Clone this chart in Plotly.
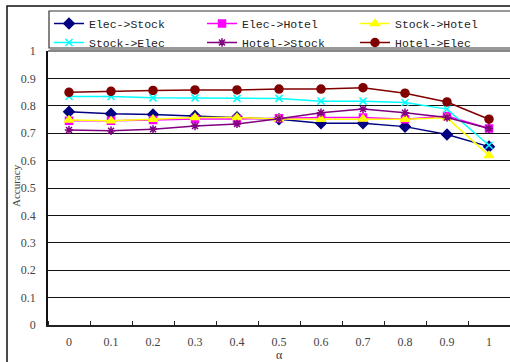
import plotly.graph_objects as go

alpha = [0, 0.1, 0.2, 0.3, 0.4, 0.5, 0.6, 0.7, 0.8, 0.9, 1]
x_labels = ["0", "0.1", "0.2", "0.3", "0.4", "0.5", "0.6", "0.7", "0.8", "0.9", "1"]
y_ticks = [0, 0.1, 0.2, 0.3, 0.4, 0.5, 0.6, 0.7, 0.8, 0.9, 1]
y_labels = ["0", "0.1", "0.2", "0.3", "0.4", "0.5", "0.6", "0.7", "0.8", "0.9", "1"]

elec_stock = [0.778, 0.771, 0.768, 0.763, 0.758, 0.751, 0.736, 0.736, 0.724, 0.695, 0.651]
elec_hotel = [0.745, 0.745, 0.748, 0.752, 0.752, 0.755, 0.757, 0.757, 0.751, 0.763, 0.717]
stock_hotel = [0.748, 0.745, 0.751, 0.757, 0.757, 0.752, 0.751, 0.752, 0.751, 0.756, 0.619]
stock_elec = [0.834, 0.834, 0.829, 0.829, 0.827, 0.827, 0.817, 0.817, 0.812, 0.788, 0.656]
hotel_stock = [0.712, 0.709, 0.714, 0.726, 0.734, 0.753, 0.775, 0.788, 0.775, 0.757, 0.717]
hotel_elec = [0.849, 0.853, 0.856, 0.858, 0.858, 0.861, 0.861, 0.866, 0.846, 0.814, 0.751]

series = [
    ("Elec->Stock", elec_stock, "#000080", "diamond", 8),
    ("Elec->Hotel", elec_hotel, "#FF00FF", "square", 7),
    ("Stock->Hotel", stock_hotel, "#FFFF00", "triangle-up", 8),
    ("Stock->Elec", stock_elec, "#00FFFF", "x-thin", 7),
    ("Hotel->Stock", hotel_stock, "#800080", "asterisk", 7),
    ("Hotel->Elec", hotel_elec, "#800000", "circle", 8),
]

fig = go.Figure()
for name, vals, color, sym, size in series:
    fig.add_trace(go.Scatter(
        x=alpha, y=vals, name=name, mode="lines+markers",
        line=dict(color=color, width=1.5),
        marker=dict(symbol=sym, size=size, color=color,
                    line=dict(color=color, width=1.5)),
    ))

W, H = 510, 362
ml, mr, mt, mb = 48, 0, 51, 37
pw, ph = W - ml - mr, H - mt - mb

def px_x(p):
    return (p - ml) / pw

def px_y(p):
    return (H - mb - p) / ph

serif = "Liberation Serif, serif"

fig.update_layout(
    width=W, height=H,
    margin=dict(l=ml, r=mr, t=mt, b=mb, autoexpand=False),
    paper_bgcolor="white", plot_bgcolor="white",
    font=dict(family=serif, size=12, color="#333333"),
    xaxis=dict(
        range=[-0.05, 1.05], tickvals=alpha, ticktext=x_labels,
        ticks="outside", ticklen=5, tickcolor="rgba(0,0,0,0)",
        showgrid=False, zeroline=False, automargin=False,
        showline=True, linecolor="#222222", linewidth=1.5,
        minor=dict(tick0=0.05, dtick=0.1, ticks="inside", ticklen=4,
                   tickcolor="#222222", tickwidth=1, showgrid=False),
        tickfont=dict(family=serif, size=12, color="#444444"),
        fixedrange=True,
    ),
    yaxis=dict(
        range=[0, 1], tickvals=y_ticks, ticktext=y_labels,
        ticks="outside", ticklen=8, tickcolor="rgba(0,0,0,0)",
        showgrid=True, gridcolor="#111111", gridwidth=1, automargin=False,
        zeroline=False, showline=True, linecolor="#111111", linewidth=1.5,
        tickfont=dict(family=serif, size=12, color="#444444"),
        fixedrange=True,
    ),
    legend=dict(
        orientation="h", x=px_x(49), y=px_y(9), xanchor="left", yanchor="top",
        entrywidth=108, entrywidthmode="pixels", itemwidth=30,
        bgcolor="rgba(0,0,0,0)", borderwidth=0,
        font=dict(family="Liberation Mono, DejaVu Sans Mono, monospace", size=11.5, color="#222222"),
        tracegroupgap=0,
    ),
    showlegend=True,
)

fig.add_annotation(text="α", xref="paper", yref="paper", x=px_x(279), y=px_y(355),
                   xanchor="center", yanchor="middle",
                   showarrow=False, font=dict(family=serif, size=12, color="#333333"))
fig.add_annotation(text="Accuracy", xref="paper", yref="paper", x=px_x(16), y=px_y(186),
                   xanchor="center", yanchor="middle",
                   textangle=-90, showarrow=False,
                   font=dict(family=serif, size=11, color="#444444"))

# outer frame of the chart
fig.add_shape(type="rect", xref="paper", yref="paper",
              x0=px_x(7), x1=px_x(530), y0=px_y(380), y1=px_y(6),
              line=dict(color="#111111", width=1.5), fillcolor="rgba(0,0,0,0)", layer="below")
# legend box
fig.add_shape(type="rect", xref="paper", yref="paper",
              x0=px_x(49), x1=px_x(515), y0=px_y(48), y1=px_y(11),
              line=dict(color="#333333", width=1.2), fillcolor="white", layer="below")
fig.add_shape(type="line", xref="paper", yref="paper",
              x0=px_x(50), x1=px_x(515), y0=px_y(49.5), y1=px_y(49.5),
              line=dict(color="#999999", width=1.5), layer="below")
# top border of plot area
fig.add_shape(type="line", xref="paper", yref="paper",
              x0=0, x1=1, y0=1, y1=1, line=dict(color="#888888", width=2))

fig.write_html("out.html",
               config={"displayModeBar": False},
               post_script="document.body.style.margin='0px';document.body.style.overflow='hidden';")
